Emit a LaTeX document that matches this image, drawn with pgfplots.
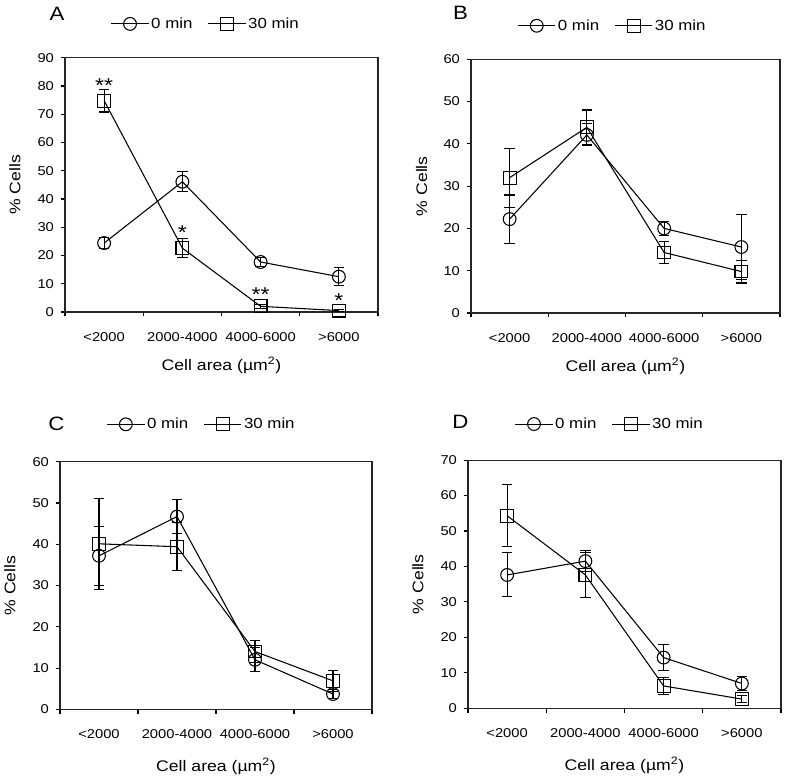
\documentclass[border=0pt]{standalone}
\usepackage{fontspec}
\setmainfont{Liberation Sans}[FakeStretch=1.15]
\usepackage{pgfplots}
\usepackage{pgfplotstable}
\pgfplotsset{compat=1.18}

% columns: x, 0 min (a, ae), 30 min (b, be)
\pgfplotstableread{
x   a    ae   b    be
0.5 24.4 2.0  74.8 4.0
1.5 46.1 3.6  22.6 3.3
2.5 17.7 1.5  2.0  0.6
3.5 12.5 3.2  0.5  0.3
}\dataA
\pgfplotstableread{
x   a    ae   b    be
0.5 22.2 5.7  32.0 7.0
1.5 42.1 2.6  43.9 4.1
2.5 20.0 1.7  14.3 2.5
3.5 15.6 7.7  9.8  2.7
}\dataB
\pgfplotstableread{
x   a    ae   b    be
0.5 37.2 7.2  40.1 11.0
1.5 46.7 4.2  39.4 5.8
2.5 12.0 2.9  14.0 2.6
3.5 3.7  1.0  6.9  2.6
}\dataC
\pgfplotstableread{
x   a    ae   b    be
0.5 37.6 6.2  54.3 8.7
1.5 41.5 2.9  37.6 6.3
2.5 14.3 3.6  6.3  2.5
3.5 7.0  1.9  2.6  1.0
}\dataD

\tikzset{starnode/.style={font=\fontsize{15}{15}\selectfont}}

\pgfplotsset{
  panel/.style={
    scale only axis, clip=false,
    xmin=0, xmax=4, ymin=0,
    xtick={0.5,1.5,2.5,3.5},
    xticklabels={<2000,2000-4000,4000-6000,>6000},
    minor xtick={0,1,2,3,4},
    xtick pos=bottom, ytick pos=left,
    tick align=outside,
    major tick length=3.2pt,
    minor tick length=3.2pt,
    major x tick style={draw=none},
    tick style={line width=0.8pt, black},
    axis line style={line width=0.8pt, black!85},
    /pgf/number format/assume math mode=true,
    ticklabel style={font=\fontsize{9.6}{10}\selectfont},
    xticklabel style={yshift=-8.6pt},
    yticklabel style={xshift=-1.6pt},
    xlabel={Cell area (µm\textsuperscript{2})},
    ylabel={\% Cells},
    label style={font=\fontsize{11.5}{12}\selectfont},
    legend style={draw=none, fill=none, anchor=center,
      font=\fontsize{11}{12}\selectfont,
      nodes={inner xsep=1.5pt},
      /tikz/every even column/.append style={column sep=10pt}},
    legend columns=2,
    legend image code/.code={\draw[mark repeat=2,mark phase=2,##1] plot coordinates {(0pt,0pt)(14pt,0pt)(28pt,0pt)};},
  },
  ser/.style={black, line width=0.8pt, mark size=4.8pt,
    mark options={solid, line width=0.8pt},
    error bars/.cd, y dir=both, y explicit,
    error bar style={line width=0.8pt},
    error mark options={rotate=90, mark size=4pt, line width=0.8pt}},
}

\begin{document}
\begin{tikzpicture}[x=0.75pt,y=0.75pt]
\path[use as bounding box] (0,0) rectangle (787,777);

% Panel A
\begin{axis}[panel, at={(48.75pt,348.75pt)}, anchor=south west,
  width=234.75pt, height=190.7pt, ymax=90, ytick={0,10,...,90},
  x label style={at={([yshift=-40pt]axis description cs:0.5,0)}, anchor=center},
  y label style={at={([xshift=-37.5pt]axis description cs:0,0.5)}, anchor=center},
  legend style={at={(axis description cs:0.45,1.133)}}]
\addplot[mark=o, ser] table[x=x, y=a, y error=ae] {\dataA};
\addplot[mark=square, ser] table[x=x, y=b, y error=be] {\dataA};
\legend{0 min, 30 min}
\node[starnode] at (axis cs:0.5,80.0) {**};
\node[starnode] at (axis cs:1.5,28.0) {*};
\node[starnode] at (axis cs:2.5,6.1) {**};
\node[starnode] at (axis cs:3.5,4.1) {*};
\end{axis}

% Panel B
\begin{axis}[panel, at={(353.25pt,348pt)}, anchor=south west,
  width=231.75pt, height=190.3pt, ymax=60, ytick={0,10,...,60},
  x label style={at={([yshift=-40pt]axis description cs:0.5,0)}, anchor=center},
  y label style={at={([xshift=-37pt]axis description cs:0,0.5)}, anchor=center},
  legend style={at={(axis description cs:0.458,1.132)}}]
\addplot[mark=o, ser] table[x=x, y=a, y error=ae] {\dataB};
\addplot[mark=square, ser] table[x=x, y=b, y error=be] {\dataB};
\legend{0 min, 30 min}
\end{axis}

% Panel C
\begin{axis}[panel, at={(45pt,50.775pt)}, anchor=south west,
  width=234pt, height=185.7pt, ymax=60, ytick={0,10,...,60},
  x label style={at={([yshift=-43pt]axis description cs:0.5,0)}, anchor=center},
  y label style={at={([xshift=-37.5pt]axis description cs:0,0.5)}, anchor=center},
  legend style={at={(axis description cs:0.454,1.151)}}]
\addplot[mark=o, ser] table[x=x, y=a, y error=ae] {\dataC};
\addplot[mark=square, ser] table[x=x, y=b, y error=be] {\dataC};
\legend{0 min, 30 min}
\end{axis}

% Panel D
\begin{axis}[panel, at={(351pt,51.525pt)}, anchor=south west,
  width=234.75pt, height=186.2pt, ymax=70, ytick={0,10,...,70},
  x label style={at={([yshift=-42.5pt]axis description cs:0.5,0)}, anchor=center},
  y label style={at={([xshift=-37.5pt]axis description cs:0,0.5)}, anchor=center},
  legend style={at={(axis description cs:0.453,1.145)}}]
\addplot[mark=o, ser] table[x=x, y=a, y error=ae] {\dataD};
\addplot[mark=square, ser] table[x=x, y=b, y error=be] {\dataD};
\legend{0 min, 30 min}
\end{axis}

\node[font=\fontsize{14.5}{15}\selectfont] at (57,763) {A};
\node[font=\fontsize{14.5}{15}\selectfont] at (460.5,764.5) {B};
\node[font=\fontsize{14.5}{15}\selectfont] at (56.5,353.5) {C};
\node[font=\fontsize{14.5}{15}\selectfont] at (460.5,355) {D};
\end{tikzpicture}
\end{document}
